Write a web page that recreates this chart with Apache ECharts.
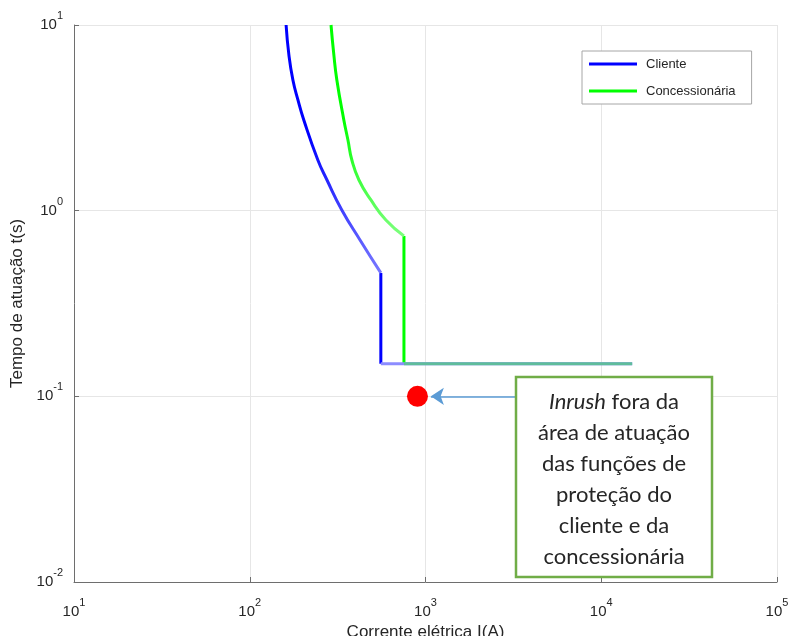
<!DOCTYPE html>
<html><head><meta charset="utf-8">
<script src="https://cdn.jsdelivr.net/npm/echarts@6/dist/echarts.min.js"></script>
<style>html,body{margin:0;padding:0;background:#fff}#c{width:791px;height:636px}</style>
</head><body><div id="c"></div><script>
// Tick labels (powers of ten)
const xTickExponents = [1, 2, 3, 4, 5];
const yTickExponents = [-2, -1, 0, 1];
// Cliente curve (inverse time part): current (A) and time (s)
const clienteI = [161, 167, 176, 188, 203, 244, 275, 334, 424, 557];
const clienteT = [10, 6.9, 5.06, 3.95, 3.08, 1.875, 1.463, 1.009, 0.695, 0.462];
// Concessionária curve
const concI = [290, 301, 313, 343, 362, 381, 418, 489, 595, 754];
const concT = [10, 6.9, 5.06, 3.08, 2.40, 1.875, 1.463, 1.142, 0.891, 0.731];
// Definite-time (instantaneous) part
const defTime = 0.15;
const endI = 15000;
// Inrush point
const inrushI = [900];
const inrushT = [0.1];
// Annotation arrow (data coordinates)
const arrowHeadI = 1073, arrowTailI = 3230;

const FONT = 'Liberation Sans';
const TXT = '#262626';

function pairs(xs, ys) { return xs.map((x, i) => [x, ys[i]]); }
const cPick = clienteI[clienteI.length - 1], cPickT = clienteT[clienteT.length - 1];
const gPick = concI[concI.length - 1], gPickT = concT[concT.length - 1];

function grad(c0, c1) {
  return new echarts.graphic.LinearGradient(0, 0, 0, 1, [
    {offset: 0, color: c0}, {offset: 0.45, color: c0}, {offset: 1, color: c1}
  ]);
}

const chart = echarts.init(document.getElementById('c'), null, {renderer: 'canvas'});
const lbl = (exps) => (v) => {
  const e = Math.round(Math.log10(v));
  return exps.includes(e) ? '{b|10}{e|' + e + '}' : '';
};
const rich = {
  b: {fontFamily: FONT, fontSize: 15, color: TXT},
  e: {fontFamily: FONT, fontSize: 11, color: TXT, padding: [0, 0, 18, 0]}
};
const axisCommon = {
  type: 'log', logBase: 10,
  nameLocation: 'middle',
  nameTextStyle: {fontFamily: FONT, fontSize: 17, color: TXT},
  axisLine: {show: true, lineStyle: {color: '#6e6e6e', width: 1}},
  axisTick: {show: true, inside: true, length: 5, lineStyle: {color: '#6e6e6e'}},
  minorTick: {show: false},
  splitLine: {show: true, lineStyle: {color: '#e6e6e6', width: 1}},
};

chart.setOption({
  animation: false,
  backgroundColor: '#fff',
  grid: {left: 74, right: 14, top: 25, bottom: 54, containLabel: false, outerBoundsMode: 'none'},
  xAxis: Object.assign({}, axisCommon, {
    min: 10, max: 100000,
    name: 'Corrente elétrica I(A)', nameGap: 38,
    axisLabel: {formatter: lbl(xTickExponents), rich: rich, margin: 15, showMinLabel: true, showMaxLabel: true}
  }),
  yAxis: Object.assign({}, axisCommon, {
    min: 0.01, max: 10,
    name: 'Tempo de atuação t(s)', nameGap: 48,
    axisLabel: {formatter: lbl(yTickExponents), rich: rich, margin: 11, showMinLabel: true, showMaxLabel: true}
  }),
  legend: {
    data: ['Cliente', 'Concessionária'], orient: 'vertical', left: 582, top: 51,
    padding: [6, 16, 6, 7], itemWidth: 48, itemHeight: 3, itemGap: 13, icon: 'rect',
    borderColor: '#a6a6a6', borderWidth: 1, borderRadius: 0, backgroundColor: '#fff',
    selectedMode: false,
    textStyle: {fontFamily: FONT, fontSize: 13, lineHeight: 14, color: TXT, padding: [0, 0, 0, 4]}
  },
  series: [
    {name: 'Cliente', type: 'line', symbol: 'none', z: 3,
     lineStyle: {color: '#0000ff', width: 3}, itemStyle: {color: '#0000ff'},
     data: [[cPick, cPickT], [cPick, defTime]]},
    {name: 'Concessionária', type: 'line', symbol: 'none', z: 3,
     lineStyle: {color: '#00ff00', width: 3}, itemStyle: {color: '#00ff00'},
     data: [[gPick, gPickT], [gPick, defTime]]},
    {name: 'Cliente curva', type: 'line', symbol: 'none', smooth: 0.5, z: 3,
     lineStyle: {color: grad('#0000ff', '#7a7aff'), width: 3},
     data: pairs(clienteI, clienteT)},
    {name: 'Concessionária curva', type: 'line', symbol: 'none', smooth: 0.5, z: 3,
     lineStyle: {color: grad('#00ff00', '#80ff80'), width: 3},
     data: pairs(concI, concT)},
    {name: 'Cliente inst', type: 'line', symbol: 'none', z: 3,
     lineStyle: {color: '#8c8cff', width: 3},
     data: [[cPick, defTime], [endI, defTime]]},
    {name: 'Concessionária inst', type: 'line', symbol: 'none', z: 4,
     lineStyle: {color: '#5fbd9b', width: 3},
     data: [[gPick, defTime], [endI, defTime]]},
    {name: 'Inrush', type: 'scatter', symbol: 'circle', symbolSize: 21, z: 5,
     itemStyle: {color: '#ff0000', opacity: 1},
     data: pairs(inrushI, inrushT),
     markLine: {
       silent: true, symbol: ['arrow', 'none'], symbolSize: 13, animation: false,
       lineStyle: {color: '#5b9bd5', width: 1.5, type: 'solid', opacity: 1},
       label: {show: false}, emphasis: {disabled: true},
       data: [[{coord: [arrowHeadI, inrushT[0]]}, {coord: [arrowTailI, inrushT[0]]}]]
     }}
  ],
  graphic: [
    {type: 'rect', z: 10, shape: {x: 516, y: 377, width: 196, height: 200},
     style: {fill: '#fff', stroke: '#70ad47', lineWidth: 2.5}},
    {type: 'text', z: 11, x: 614, y: 479,
     style: {
       text: '{i|Inrush} fora da\nárea de atuação\ndas funções de\nproteção do\ncliente e da\nconcessionária',
       align: 'center', verticalAlign: 'middle',
       fontFamily: 'Lato', fontSize: 22, lineHeight: 31, fill: '#262626',
       rich: {i: {fontFamily: 'Lato', fontSize: 22, lineHeight: 31, fontStyle: 'italic', fill: '#262626'}}
     }}
  ]
});
</script></body></html>
